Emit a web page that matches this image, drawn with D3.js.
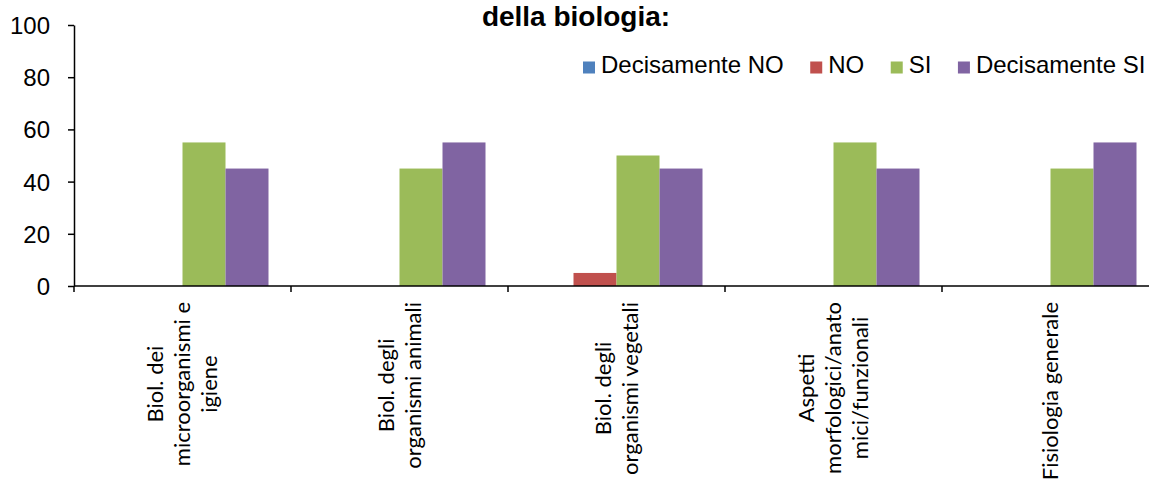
<!DOCTYPE html>
<html>
<head>
<meta charset="utf-8">
<script src="https://cdn.jsdelivr.net/npm/d3@7"></script>
<style>
  html, body { margin: 0; padding: 0; background: #fff; }
  svg { display: block; }
</style>
</head>
<body>
<svg id="chart" width="1149" height="479"></svg>
<script>
// ---- data ----
const categories = [
  "Biol. dei\nmicroorganismi e\nigiene",
  "Biol. degli\norganismi animali",
  "Biol. degli\norganismi vegetali",
  "Aspetti\nmorfologici/anato\nmici/funzionali",
  "Fisiologia generale"
];
const seriesNames = ["Decisamente NO", "NO", "SI", "Decisamente SI"];
const seriesColors = ["#4F81BD", "#C0504D", "#9BBB59", "#8064A2"];
const decisamenteNO = [0, 0, 0, 0, 0];
const no = [0, 0, 5, 0, 0];
const si = [55, 45, 50, 55, 45];
const decisamenteSI = [45, 55, 45, 45, 55];
const yTicks = [0, 20, 40, 60, 80, 100];
const titleText = "della biologia:";

const seriesValues = [decisamenteNO, no, si, decisamenteSI];

// ---- layout ----
const svg = d3.select("#chart");
const x0 = 74, x1 = 1159, yTop = 25, yBot = 286;

const x = d3.scaleBand().domain(d3.range(categories.length)).range([x0, x1]).paddingInner(0).paddingOuter(0);
const xs = d3.scaleBand().domain(d3.range(seriesNames.length)).range([0, x.bandwidth()])
  .paddingInner(0).paddingOuter(22.5 / 43);
const y = d3.scaleLinear().domain([0, 100]).range([yBot, yTop]);

// bars
seriesValues.forEach((vals, si_) => {
  svg.append("g").selectAll("rect").data(vals).join("rect")
    .attr("x", (d, i) => x(i) + xs(si_))
    .attr("width", xs.bandwidth())
    .attr("y", d => y(d))
    .attr("height", d => y(0) - y(d))
    .attr("fill", seriesColors[si_]);
});

// y axis
const yAxis = d3.axisLeft(y).tickValues(yTicks).tickSize(6).tickPadding(18).tickSizeOuter(0);
const gy = svg.append("g").attr("transform", `translate(${x0},0)`).call(yAxis);
gy.select(".domain").attr("stroke", "#000").attr("stroke-width", 1.5);
gy.selectAll(".tick line").attr("stroke", "#000").attr("stroke-width", 1.5);
gy.selectAll(".tick text").attr("font-family", "'Liberation Sans', Arial, sans-serif")
  .attr("font-size", 24).attr("fill", "#000").attr("dy", "0.35em");

// x axis line and ticks at category boundaries
const boundaries = d3.range(categories.length + 1).map(i => i < categories.length ? x(i) : x1);
svg.append("line").attr("x1", x0).attr("x2", x1).attr("y1", yBot).attr("y2", yBot)
  .attr("stroke", "#000").attr("stroke-width", 1.5);
svg.append("g").selectAll("line").data(boundaries).join("line")
  .attr("x1", d => d).attr("x2", d => d).attr("y1", yBot).attr("y2", yBot + 6)
  .attr("stroke", "#000").attr("stroke-width", 1.5);

// category labels (rotated)
const labelFont = "Lato, 'Open Sans', sans-serif";
const labelSize = 22;
const lineH = 27;
const labelTop = 302;
categories.forEach((c, i) => {
  const lines = c.split("\n");
  const cx = x(i) + x.bandwidth() / 2;
  const g = svg.append("g");
  const texts = lines.map((ln, j) => g.append("text").text(ln)
    .attr("font-family", labelFont).attr("font-size", labelSize).attr("fill", "#000")
    .attr("text-anchor", "middle"));
  const maxW = d3.max(texts, t => t.node().getComputedTextLength());
  const cy = labelTop + maxW / 2;
  texts.forEach((t, j) => {
    const lx = cx + (j - (lines.length - 1) / 2) * lineH;
    t.attr("transform", `translate(${lx},${cy}) rotate(-90)`).attr("dy", "0.35em");
  });
});

// title
svg.append("text").attr("x", 576).attr("y", 26).attr("text-anchor", "middle")
  .attr("font-family", "'Liberation Sans', Arial, sans-serif").attr("font-weight", "bold")
  .attr("font-size", 28).attr("fill", "#000").text(titleText);

// legend
const legend = svg.append("g");
let lx = 583;
seriesNames.forEach((name, i) => {
  legend.append("rect").attr("x", lx).attr("y", 61.5).attr("width", 12).attr("height", 12)
    .attr("fill", seriesColors[i]);
  const t = legend.append("text").attr("x", lx + 18).attr("y", 73)
    .attr("font-family", "'Liberation Sans', Arial, sans-serif").attr("font-size", 24)
    .attr("fill", "#000").text(name);
  lx += 18 + t.node().getComputedTextLength() + 26.5;
});
</script>
</body>
</html>
